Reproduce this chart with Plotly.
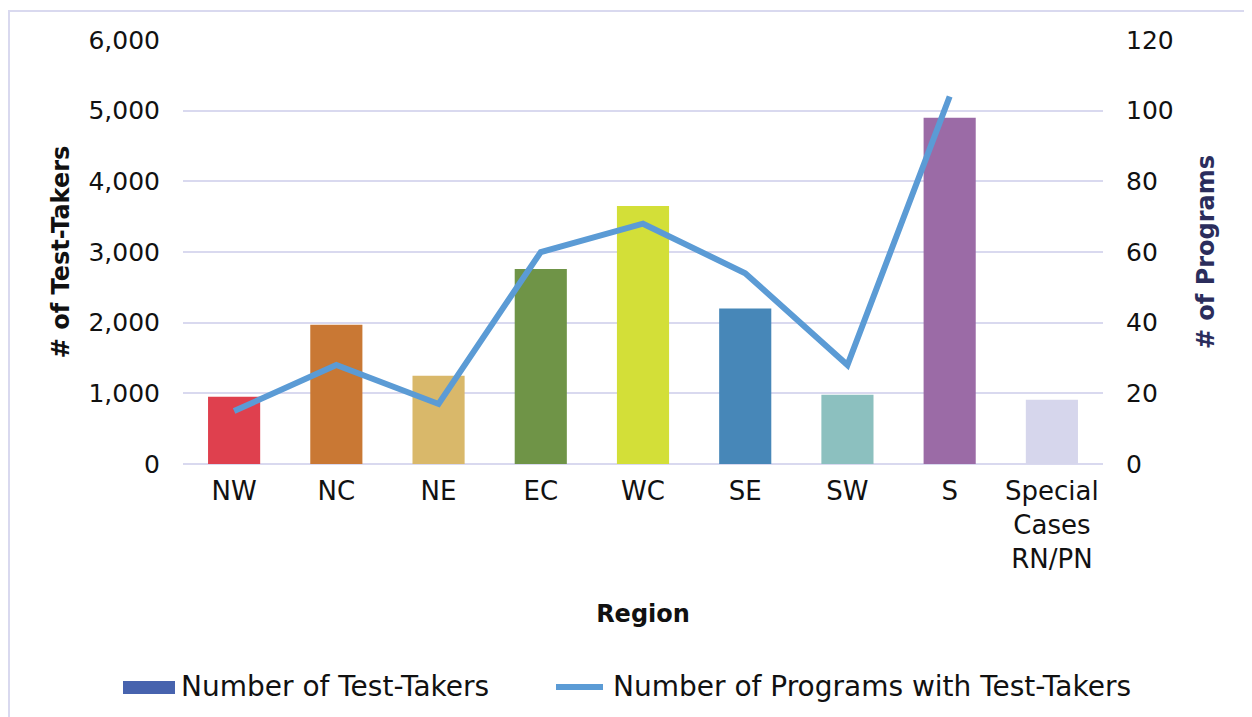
import plotly.graph_objects as go

regions = ["NW", "NC", "NE", "EC", "WC", "SE", "SW", "S", "Special<br>Cases<br>RN/PN"]
test_takers = [950, 1970, 1250, 2760, 3650, 2200, 980, 4900, 910]
bar_colors = ["#df404e", "#c97834", "#d9b86a", "#6f9447", "#d3df38",
              "#4787b8", "#8cc0bf", "#9b6ba6", "#d6d6ec"]
program_regions = ["NW", "NC", "NE", "EC", "WC", "SE", "SW", "S"]
programs = [15, 28, 17, 60, 68, 54, 28, 104]

FONT = "DejaVu Sans"
grid_col = "#d9d9ef"

fig = go.Figure()
fig.add_trace(go.Bar(x=regions, y=test_takers, marker_color=bar_colors,
                     marker_line_width=0, name="Number of Test-Takers",
                     showlegend=False))
fig.add_trace(go.Scatter(x=program_regions, y=programs, mode="lines",
                         line=dict(color="#5b9bd5", width=6),
                         name="Number of Programs with Test-Takers",
                         yaxis="y2", showlegend=False))

# page body has an 8px margin, so figure coordinates are offset by 8px
OFF = 8
W, H = 1252 - OFF, 717 - OFF
L, R, T, B = 183 - OFF, 149, 40 - OFF, 253
pw, ph = W - L - R, H - T - B

def px(x):
    return (x - OFF - L) / pw

def py(y):
    return 1 - (y - OFF - T) / ph

shapes = [
    dict(type="line", xref="paper", yref="paper", x0=px(9), x1=px(9), y0=py(10), y1=py(730),
         line=dict(color="#d9d9ef", width=2)),
    dict(type="line", xref="paper", yref="paper", x0=px(8), x1=px(1270), y0=py(11), y1=py(11),
         line=dict(color="#d9d9ef", width=2)),
    dict(type="rect", xref="paper", yref="paper", x0=px(123), x1=px(175), y0=py(694), y1=py(681),
         fillcolor="#4763ae", line=dict(width=0)),
    dict(type="line", xref="paper", yref="paper", x0=px(556), x1=px(603), y0=py(687), y1=py(687),
         line=dict(color="#5b9bd5", width=6)),
]

annotations = [
    dict(text="Number of Test-Takers", xref="paper", yref="paper", x=px(179), y=py(686),
         xanchor="left", yanchor="middle", showarrow=False,
         font=dict(family=FONT, size=28, color="#111")),
    dict(text="Number of Programs with Test-Takers", xref="paper", yref="paper", x=px(611), y=py(686),
         xanchor="left", yanchor="middle", showarrow=False,
         font=dict(family=FONT, size=28, color="#111")),
]

fig.update_layout(
    width=W, height=H,
    margin=dict(l=L, r=R, t=T, b=B),
    paper_bgcolor="white", plot_bgcolor="white",
    bargap=0.49,
    font=dict(family=FONT, size=25, color="#111"),
    showlegend=False,
    shapes=shapes,
    annotations=annotations,
    xaxis=dict(
        showgrid=False, showline=False, ticks="", tickfont=dict(size=26, color="#111"),
        ticklabelstandoff=9,
        title=dict(text="<b>Region</b>", font=dict(size=24, color="#111"), standoff=32),
    ),
    yaxis=dict(
        range=[0, 6000], dtick=1000, tickformat=",", showgrid=True, gridcolor=grid_col,
        gridwidth=2, zeroline=True, zerolinecolor=grid_col, zerolinewidth=2,
        showline=False, ticks="", ticklabelstandoff=22, tickfont=dict(size=25, color="#111"),
        title=dict(text="<b># of Test-Takers</b>", font=dict(size=24, color="#111"), standoff=12),
    ),
    yaxis2=dict(
        range=[0, 120], dtick=20, overlaying="y", side="right", showgrid=False,
        zeroline=False, showline=False, ticks="", ticklabelstandoff=22,
        tickfont=dict(size=25, color="#111"),
        title=dict(text="<b># of Programs</b>", font=dict(size=24, color="#2b2d5c"), standoff=24),
    ),
)

fig.write_html("out.html")
